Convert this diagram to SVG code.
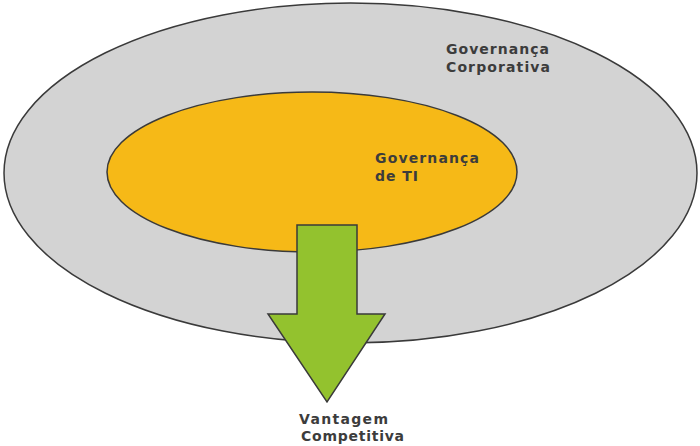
<svg xmlns="http://www.w3.org/2000/svg" width="700" height="446" viewBox="0 0 700 446">
<style>
.shape{stroke:#3a3a3a;stroke-width:1.5}
.lbl{font-family:"DejaVu Sans",Verdana,sans-serif;font-size:14px;font-weight:bold;fill:#3c3c3c}
</style>
<rect width="700" height="446" fill="#ffffff"/>
<g id="governanca-corporativa">
<ellipse class="shape" cx="350.5" cy="173" rx="346.5" ry="170" fill="#d3d3d3"/>
<text class="lbl" x="446" y="54" textLength="103" lengthAdjust="spacing">Governança</text>
<text class="lbl" x="446" y="72" textLength="104" lengthAdjust="spacing">Corporativa</text>
</g>
<g id="governanca-ti">
<ellipse class="shape" cx="312" cy="172" rx="205" ry="80" fill="#f6b917"/>
<text class="lbl" x="375" y="163" textLength="104" lengthAdjust="spacing">Governança</text>
<text class="lbl" x="375" y="181" textLength="43" lengthAdjust="spacing">de TI</text>
</g>
<g id="connectors">
<polygon class="shape" points="297,225 357,225 357,314 385,314 327,402 268,314 297,314" fill="#93c22e" stroke-linejoin="miter"/>
</g>
<g id="vantagem-competitiva">
<text class="lbl" x="299" y="424" textLength="89" lengthAdjust="spacing">Vantagem</text>
<text class="lbl" x="301" y="441" textLength="103" lengthAdjust="spacing">Competitiva</text>
</g>
</svg>
